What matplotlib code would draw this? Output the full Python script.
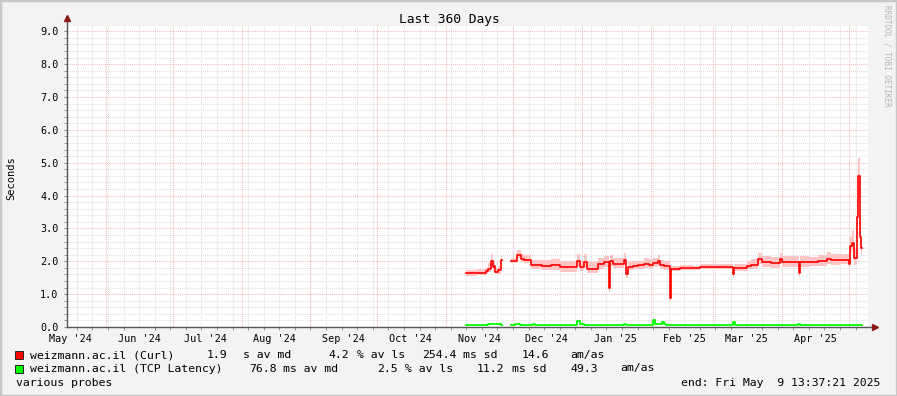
import numpy as np
import pandas as pd
import matplotlib
matplotlib.use("Agg")
import matplotlib.pyplot as plt
import matplotlib.dates as mdates
from matplotlib.patches import Rectangle

plt.rcParams['font.family'] = ['DejaVu Sans Mono']

# --- data ---
curl_dates = ["2024-11-10", "2024-11-15", "2024-11-19", "2024-11-20", "2024-11-21",
              "2024-11-22", "2024-11-22 12:00", "2024-11-23", "2024-11-24 12:00",
              "2024-11-25 12:00", "2024-11-26", "2024-11-30", "2024-12-03",
              "2024-12-04 12:00", "2024-12-06", "2024-12-09", "2024-12-14",
              "2024-12-18", "2024-12-22", "2024-12-30", "2024-12-31", "2025-01-02",
              "2025-01-03 12:00", "2025-01-08", "2025-01-11", "2025-01-13",
              "2025-01-13 12:00", "2025-01-15", "2025-01-20", "2025-01-21",
              "2025-01-21 12:00", "2025-01-24", "2025-01-26", "2025-01-29",
              "2025-01-31", "2025-02-02", "2025-02-04", "2025-02-05", "2025-02-07",
              "2025-02-09 12:00", "2025-02-10", "2025-02-14", "2025-02-20",
              "2025-02-23", "2025-03-01", "2025-03-05", "2025-03-10",
              "2025-03-10 12:00", "2025-03-16", "2025-03-18", "2025-03-21",
              "2025-03-23", "2025-03-27", "2025-03-31", "2025-04-01",
              "2025-04-08 12:00", "2025-04-09", "2025-04-13", "2025-04-17",
              "2025-04-21", "2025-04-23", "2025-04-27", "2025-05-01",
              "2025-05-01 12:00", "2025-05-02 12:00", "2025-05-03 12:00",
              "2025-05-04 12:00", "2025-05-05", "2025-05-05 18:00",
              "2025-05-06 06:00", "2025-05-07"]
curl_median = [1.63, 1.65, 1.70, 1.78, 2.00,
               1.82, 1.87, 1.68, 1.72,
               2.03, np.nan, 2.01, 2.19,
               2.07, 2.04, 1.89, 1.86,
               1.88, 1.82, 2.00, 1.83, 1.99,
               1.77, 1.92, 1.97, 1.18,
               2.00, 1.93, 2.04, 1.60,
               1.83, 1.87, 1.88, 1.93,
               1.90, 1.95, 2.00, 1.88, 1.85,
               0.87, 1.77, 1.80, 1.79,
               1.83, 1.84, 1.83, 1.60,
               1.79, 1.86, 1.90, 2.06,
               1.97, 1.95, 2.06, 1.97,
               1.63, 1.97, 1.98, 2.00,
               2.08, 2.03, 2.05, 1.93,
               2.45, 2.55, 2.10,
               3.35, 4.60, 2.75,
               2.40, np.nan]
curl_smoke_lo = [0.08, 0.08, 0.08, 0.10, 0.15,
                 0.12, 0.12, 0.08, 0.10,
                 0.12, 0.0, 0.06, 0.10,
                 0.10, 0.10, 0.12, 0.14,
                 0.14, 0.16, 0.15, 0.14, 0.16,
                 0.14, 0.14, 0.14, 0.10,
                 0.14, 0.12, 0.14, 0.10,
                 0.10, 0.10, 0.12, 0.12,
                 0.12, 0.12, 0.14, 0.12, 0.12,
                 0.10, 0.06, 0.06, 0.06,
                 0.07, 0.07, 0.07, 0.10,
                 0.08, 0.10, 0.12, 0.14,
                 0.14, 0.14, 0.14, 0.14,
                 0.12, 0.14, 0.12, 0.14,
                 0.16, 0.14, 0.14, 0.12,
                 0.20, 0.20, 0.20,
                 0.40, 0.60, 0.30,
                 0.20, 0.0]
curl_smoke_hi = [0.10, 0.10, 0.10, 0.18, 0.22,
                 0.16, 0.16, 0.12, 0.14,
                 0.14, 0.0, 0.08, 0.14,
                 0.14, 0.14, 0.16, 0.18,
                 0.18, 0.20, 0.22, 0.18, 0.22,
                 0.20, 0.18, 0.18, 0.16,
                 0.18, 0.16, 0.20, 0.16,
                 0.14, 0.14, 0.14, 0.16,
                 0.16, 0.16, 0.18, 0.16, 0.16,
                 0.14, 0.08, 0.08, 0.08,
                 0.09, 0.09, 0.09, 0.14,
                 0.12, 0.14, 0.18, 0.20,
                 0.18, 0.18, 0.18, 0.18,
                 0.16, 0.18, 0.16, 0.18,
                 0.20, 0.18, 0.18, 0.16,
                 0.30, 0.40, 0.30,
                 0.60, 0.55, 0.50,
                 0.30, 0.0]

tcp_dates = ["2024-11-10", "2024-11-20", "2024-11-25 12:00", "2024-11-26",
             "2024-11-30", "2024-12-02", "2024-12-04", "2024-12-10", "2024-12-11",
             "2024-12-30", "2024-12-31", "2025-01-02", "2025-01-20", "2025-01-21",
             "2025-02-02", "2025-02-03", "2025-02-06", "2025-02-07", "2025-02-08",
             "2025-03-10", "2025-03-11", "2025-04-08", "2025-04-09", "2025-05-07"]
tcp_median = [0.075, 0.10, 0.075, np.nan,
              0.075, 0.10, 0.075, 0.09, 0.075,
              0.18, 0.09, 0.075, 0.09, 0.075,
              0.20, 0.09, 0.16, 0.09, 0.075,
              0.14, 0.075, 0.09, 0.075, np.nan]

legend_rows = [
    ("weizmann.ac.il (Curl)", "#ff0000",
     [("1.9", 207), ("s av md", 243), ("4.2", 328), ("% av ls", 357),
      ("254.4", 422), ("ms sd", 463), ("14.6", 522), ("am/as", 570)]),
    ("weizmann.ac.il (TCP Latency)", "#00ff00",
     [("76.8", 249), ("ms av md", 283), ("2.5", 377), ("% av ls", 405),
      ("11.2", 477), ("ms sd", 512), ("49.3", 570), ("am/as", 620)]),
]

end = pd.Timestamp("2025-05-09 13:37:21")
start = end - pd.Timedelta(days=360)
ymax = 9.16

W, H = 897, 396
fig = plt.figure(figsize=(W / 100, H / 100), dpi=100, facecolor='#f3f3f3')
fig.patches.append(Rectangle((0, 0), 1, 1, transform=fig.transFigure,
                             fill=False, edgecolor='#c8c8c8', lw=2.5))
ax = fig.add_axes([67 / W, 69 / H, 801 / W, 301 / H])
ax.set_facecolor('white')
for s in ax.spines.values():
    s.set_visible(False)
ax.set_xlim(start, end)
ax.set_ylim(0, ymax)

# grid
weeks = pd.date_range(start.normalize(), end, freq='W-SUN')
months = pd.date_range(start.normalize(), end, freq='MS')
gray, pink = '#e0e0e0', '#f5baba'
ax.vlines(weeks, 0, ymax, colors=gray, linestyles=(0, (1, 1)), lw=0.75, zorder=0.5)
for y in np.arange(0.2, ymax, 0.2):
    if abs(y - round(y)) > 0.01:
        ax.axhline(y, color=gray, ls=(0, (1, 1)), lw=0.75, zorder=0.5)
ax.vlines(months, 0, ymax, colors=pink, linestyles=(0, (1, 1)), lw=0.75, zorder=0.6)
for y in range(1, 10):
    ax.axhline(y, color=pink, ls=(0, (1, 1)), lw=0.75, zorder=0.6)

# smoke + medians
cd = mdates.date2num(pd.to_datetime(curl_dates, format='mixed'))
cm = np.array(curl_median)
lo = cm - np.array(curl_smoke_lo)
hi = cm + np.array(curl_smoke_hi)
run = []
for i in range(len(cm)):
    if np.isnan(cm[i]):
        if run:
            xs = np.repeat(cd[run[0]:i + 1], 2)[1:-1]
            ax.fill_between(xs, np.repeat(lo[run], 2), np.repeat(hi[run], 2),
                            color='#ffc4c4', lw=0, zorder=1)
        run = []
    else:
        run.append(i)
ax.step(cd, cm, where='post', color='#ff0000', lw=1.2, zorder=3)
ax.step(mdates.date2num(pd.to_datetime(tcp_dates, format='mixed')), tcp_median,
        where='post', color='#00ff00', lw=1.3, zorder=3)

# ticks
ax.set_yticks(range(10))
ax.set_yticklabels([f"{v:.1f}" for v in range(10)])
ax.set_yticks(np.arange(0, ymax, 0.2), minor=True)
ax.tick_params(axis='y', which='both', length=2, color='#888888', labelsize=7.3, pad=4)
mids = list(pd.date_range(start.normalize(), end, freq='MS') + pd.Timedelta(days=15))
mids = [start.normalize().replace(day=16)] + mids
mids = [m for m in mids if start <= m <= end]
ax.set_xticks(mids)
ax.set_xticklabels([m.strftime("%b '%y") for m in mids])
ax.set_xticks(weeks, minor=True)
ax.tick_params(axis='x', which='major', length=0, labelsize=7.3, pad=5)
ax.tick_params(axis='x', which='minor', length=2, color='#888888')

# axes with arrows
ax.plot([0, 0], [0, 1.02], transform=ax.transAxes, color='#555555', lw=1, clip_on=False)
ax.plot([0, 1.008], [0, 0], transform=ax.transAxes, color='#555555', lw=1, clip_on=False)
ax.plot([0], [1.025], marker='^', ms=4, color='#8b1c1c', transform=ax.transAxes, clip_on=False)
ax.plot([1.009], [0], marker='>', ms=4, color='#8b1c1c', transform=ax.transAxes, clip_on=False)

# texts
fig.text(449 / W, 1 - 19 / H, "Last 360 Days", ha='center', va='center', fontsize=9.3)
fig.text(11 / W, 1 - 178 / H, "Seconds", rotation=90, ha='center', va='center', fontsize=7.5)
fig.text(887 / W, 1 - 5 / H, "RRDTOOL / TOBI OETIKER", rotation=270, ha='center', va='top',
         fontsize=5.5, color='#b4b4b4')

for i, (name, col, parts) in enumerate(legend_rows):
    yc = 355 + 13.5 * i
    fig.patches.append(Rectangle((15 / W, 1 - (yc + 4) / H), 8 / W, 8 / H,
                                 transform=fig.transFigure, facecolor=col,
                                 edgecolor='#222222', lw=0.7))
    fig.text(30 / W, 1 - yc / H, name, va='center', fontsize=8.25)
    for txt, x in parts:
        fig.text(x / W, 1 - yc / H, txt, va='center', fontsize=8.25)

fig.text(16 / W, 1 - 383 / H, "various probes", va='center', fontsize=8.25)
fig.text(880 / W, 1 - 383 / H, "end: Fri May  9 13:37:21 2025", ha='right', va='center',
         fontsize=8.25)

fig.savefig("out.png", dpi=100, facecolor=fig.get_facecolor())
